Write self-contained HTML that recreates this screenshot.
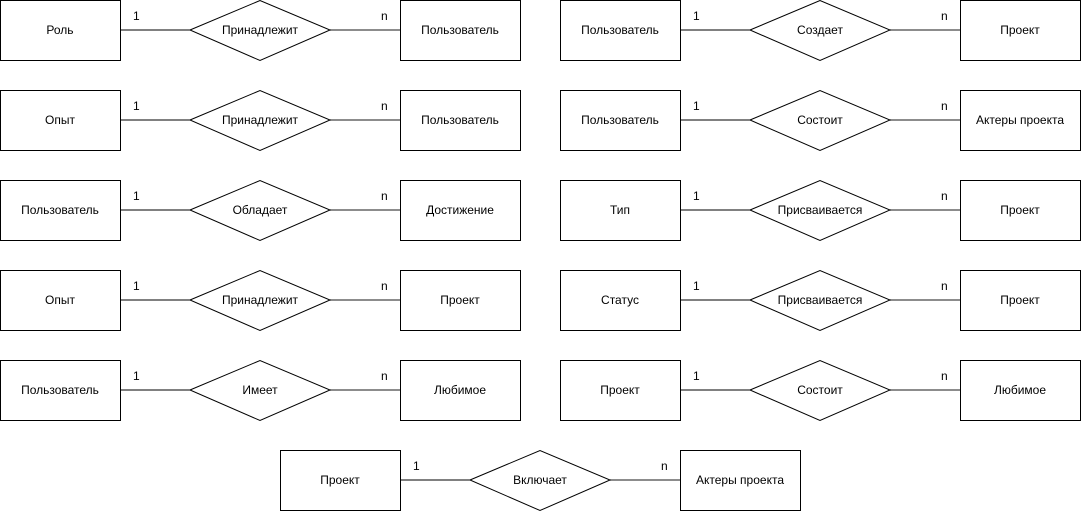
<!DOCTYPE html>
<html><head><meta charset="utf-8"><style>
html,body{margin:0;padding:0;background:#fff;width:1081px;height:512px;overflow:hidden}
svg text{font-family:"Liberation Sans",Arial,sans-serif;font-size:12px;fill:#000}
</style></head><body>
<svg width="1081" height="512" xmlns="http://www.w3.org/2000/svg">
<defs>
<g id="rel">
<line x1="120" y1="30" x2="190" y2="30" stroke="#000"/>
<line x1="330" y1="30" x2="400" y2="30" stroke="#666" stroke-width="1.5"/>
<rect x="0.5" y="0.5" width="120" height="60" fill="#fff" stroke="#000"/>
<rect x="400.5" y="0.5" width="120" height="60" fill="#fff" stroke="#000"/>
<polygon points="190,30 260,0.5 330,30 260,60.5" fill="#fff" stroke="#000"/>
</g>
</defs>
<g text-anchor="middle">
<!-- left column -->
<use href="#rel" x="0" y="0"/>
<text x="60" y="34">Роль</text><text x="260" y="34">Принадлежит</text><text x="460" y="34">Пользователь</text>
<use href="#rel" x="0" y="90"/>
<text x="60" y="124">Опыт</text><text x="260" y="124">Принадлежит</text><text x="460" y="124">Пользователь</text>
<use href="#rel" x="0" y="180"/>
<text x="60" y="214">Пользователь</text><text x="260" y="214">Обладает</text><text x="460" y="214">Достижение</text>
<use href="#rel" x="0" y="270"/>
<text x="60" y="304">Опыт</text><text x="260" y="304">Принадлежит</text><text x="460" y="304">Проект</text>
<use href="#rel" x="0" y="360"/>
<text x="60" y="394">Пользователь</text><text x="260" y="394">Имеет</text><text x="460" y="394">Любимое</text>
<!-- right column -->
<use href="#rel" x="560" y="0"/>
<text x="620" y="34">Пользователь</text><text x="820" y="34">Создает</text><text x="1020" y="34">Проект</text>
<use href="#rel" x="560" y="90"/>
<text x="620" y="124">Пользователь</text><text x="820" y="124">Состоит</text><text x="1020" y="124">Актеры проекта</text>
<use href="#rel" x="560" y="180"/>
<text x="620" y="214">Тип</text><text x="820" y="214">Присваивается</text><text x="1020" y="214">Проект</text>
<use href="#rel" x="560" y="270"/>
<text x="620" y="304">Статус</text><text x="820" y="304">Присваивается</text><text x="1020" y="304">Проект</text>
<use href="#rel" x="560" y="360"/>
<text x="620" y="394">Проект</text><text x="820" y="394">Состоит</text><text x="1020" y="394">Любимое</text>
<!-- bottom -->
<use href="#rel" x="280" y="450"/>
<text x="340" y="484">Проект</text><text x="540" y="484">Включает</text><text x="740" y="484">Актеры проекта</text>
</g>
<g>
<text x="133" y="20">1</text><text x="381" y="20">n</text>
<text x="133" y="110">1</text><text x="381" y="110">n</text>
<text x="133" y="200">1</text><text x="381" y="200">n</text>
<text x="133" y="290">1</text><text x="381" y="290">n</text>
<text x="133" y="380">1</text><text x="381" y="380">n</text>
<text x="693" y="20">1</text><text x="941" y="20">n</text>
<text x="693" y="110">1</text><text x="941" y="110">n</text>
<text x="693" y="200">1</text><text x="941" y="200">n</text>
<text x="693" y="290">1</text><text x="941" y="290">n</text>
<text x="693" y="380">1</text><text x="941" y="380">n</text>
<text x="413" y="470">1</text><text x="661" y="470">n</text>
</g>
</svg>
</body></html>
